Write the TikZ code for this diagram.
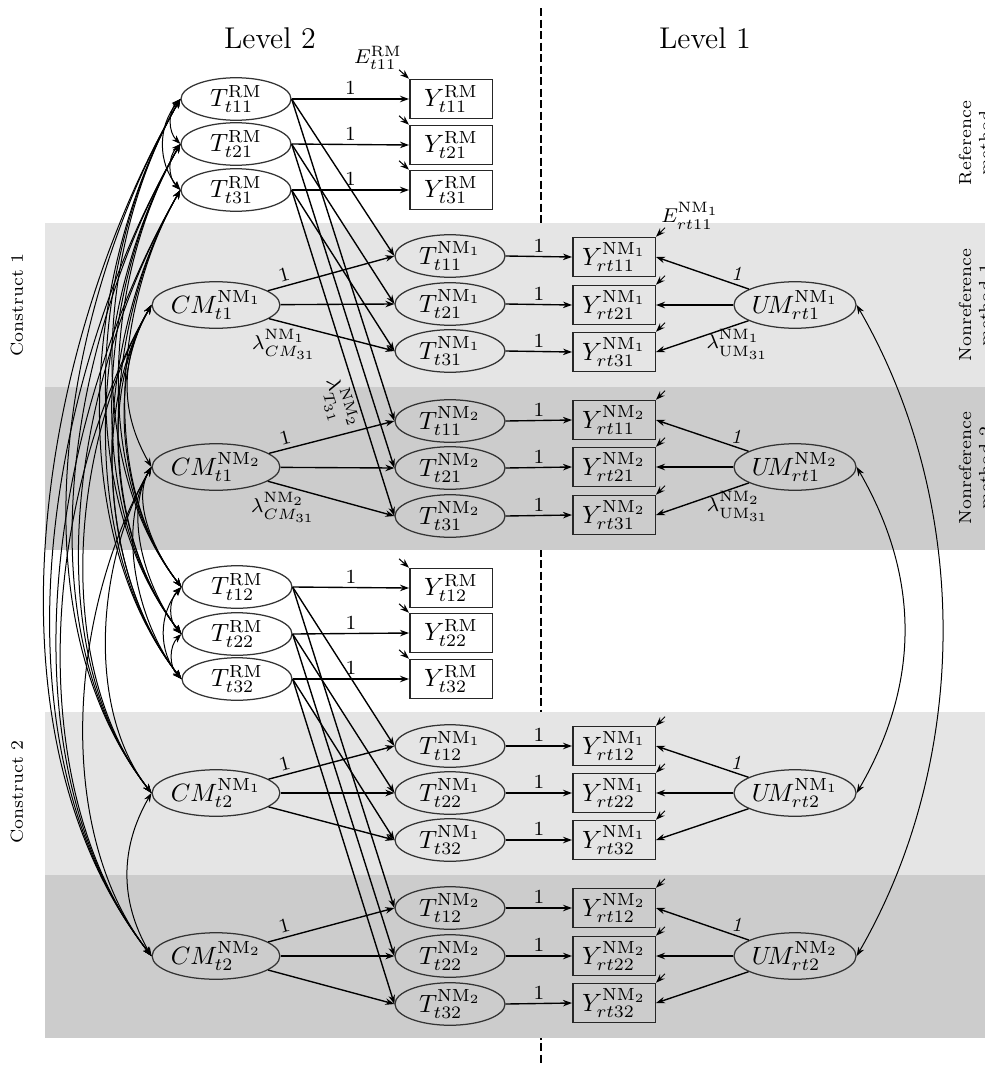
\documentclass[tikz,border=0pt]{standalone}
\usetikzlibrary{arrows.meta,shapes.geometric}
\begin{document}
\begin{tikzpicture}[x=0.4pt,y=-0.4pt,
  >={Stealth[length=3.6pt,width=2.6pt]},
  lat/.style={ellipse,draw=black!80,line width=0.5pt,minimum width=44pt,minimum height=17pt,inner sep=0pt},
  latc/.style={lat,minimum width=46pt,minimum height=18.6pt},
  obs/.style={rectangle,draw=black!85,line width=0.6pt,minimum width=33pt,minimum height=15.6pt,inner sep=0pt},
  arr/.style={->,line width=0.55pt},
  cov/.style={<->,line width=0.4pt},
  err/.style={->,line width=0.4pt},
  lab/.style={font=\footnotesize,inner sep=1.5pt},
  side/.style={rotate=90,align=center,font=\scriptsize,inner sep=0pt}
]
\useasboundingbox (0,0) rectangle (985,1066);
\draw[dash pattern=on 3.2pt off 1.4pt,line width=0.5pt] (541,8) -- (541,1066);
\fill[black!10] (45,223) rectangle (990,387);
\fill[black!20] (45,387) rectangle (990,550);
\fill[black!10] (45,712) rectangle (990,875);
\fill[black!20] (45,875) rectangle (990,1038);

\node[font=\large] (L2) at (270,38) {Level 2};
\node[font=\large] (L1) at (705,38) {Level 1};
\node[side] (S0) at (975,143) {Reference\\method};
\node[side] (S1) at (975,305) {Nonreference\\method 1};
\node[side] (S2) at (975,468) {Nonreference\\method 2};
\node[side] (C1) at (17,305) {Construct 1};
\node[side] (C2) at (17,792) {Construct 2};

% ---------- construct 1 ----------
\node[lat] (TR11) at (236,99) {$T^{\mathrm{RM}}_{t11}$};
\node[lat] (TR21) at (236,144) {$T^{\mathrm{RM}}_{t21}$};
\node[lat] (TR31) at (236,190) {$T^{\mathrm{RM}}_{t31}$};
\node[obs] (YR11) at (451,99) {$Y^{\mathrm{RM}}_{t11}$};
\node[obs] (YR21) at (451,145) {$Y^{\mathrm{RM}}_{t21}$};
\node[obs] (YR31) at (451,190) {$Y^{\mathrm{RM}}_{t31}$};
\node[latc] (CM11) at (216,305) {$CM^{\mathrm{NM}_1}_{t1}$};
\node[latc] (CM12) at (216,467) {$CM^{\mathrm{NM}_2}_{t1}$};
\node[lat] (TA11) at (450,256) {$T^{\mathrm{NM}_1}_{t11}$};
\node[lat] (TA21) at (450,304) {$T^{\mathrm{NM}_1}_{t21}$};
\node[lat] (TA31) at (450,351) {$T^{\mathrm{NM}_1}_{t31}$};
\node[lat] (TB11) at (450,421) {$T^{\mathrm{NM}_2}_{t11}$};
\node[lat] (TB21) at (450,468) {$T^{\mathrm{NM}_2}_{t21}$};
\node[lat] (TB31) at (450,516) {$T^{\mathrm{NM}_2}_{t31}$};
\node[obs] (YA11) at (614,257) {$Y^{\mathrm{NM}_1}_{rt11}$};
\node[obs] (YA21) at (614,305) {$Y^{\mathrm{NM}_1}_{rt21}$};
\node[obs] (YA31) at (614,352) {$Y^{\mathrm{NM}_1}_{rt31}$};
\node[obs] (YB11) at (614,420) {$Y^{\mathrm{NM}_2}_{rt11}$};
\node[obs] (YB21) at (614,467) {$Y^{\mathrm{NM}_2}_{rt21}$};
\node[obs] (YB31) at (614,515) {$Y^{\mathrm{NM}_2}_{rt31}$};
\node[latc] (UM11) at (795,305) {$U\!M^{\mathrm{NM}_1}_{rt1}$};
\node[latc] (UM12) at (795,467) {$U\!M^{\mathrm{NM}_2}_{rt1}$};

% ---------- construct 2 ----------
\node[lat] (TR12) at (237,587) {$T^{\mathrm{RM}}_{t12}$};
\node[lat] (TR22) at (237,634) {$T^{\mathrm{RM}}_{t22}$};
\node[lat] (TR32) at (237,679) {$T^{\mathrm{RM}}_{t32}$};
\node[obs] (YR12) at (451,588) {$Y^{\mathrm{RM}}_{t12}$};
\node[obs] (YR22) at (451,633) {$Y^{\mathrm{RM}}_{t22}$};
\node[obs] (YR32) at (451,679) {$Y^{\mathrm{RM}}_{t32}$};
\node[latc] (CM21) at (216,793) {$CM^{\mathrm{NM}_1}_{t2}$};
\node[latc] (CM22) at (216,956) {$CM^{\mathrm{NM}_2}_{t2}$};
\node[lat] (TA12) at (450,746) {$T^{\mathrm{NM}_1}_{t12}$};
\node[lat] (TA22) at (450,793) {$T^{\mathrm{NM}_1}_{t22}$};
\node[lat] (TA32) at (450,840) {$T^{\mathrm{NM}_1}_{t32}$};
\node[lat] (TB12) at (450,908) {$T^{\mathrm{NM}_2}_{t12}$};
\node[lat] (TB22) at (450,956) {$T^{\mathrm{NM}_2}_{t22}$};
\node[lat] (TB32) at (450,1004) {$T^{\mathrm{NM}_2}_{t32}$};
\node[obs] (YA12) at (614,746) {$Y^{\mathrm{NM}_1}_{rt12}$};
\node[obs] (YA22) at (614,793) {$Y^{\mathrm{NM}_1}_{rt22}$};
\node[obs] (YA32) at (614,840) {$Y^{\mathrm{NM}_1}_{rt32}$};
\node[obs] (YB12) at (614,908) {$Y^{\mathrm{NM}_2}_{rt12}$};
\node[obs] (YB22) at (614,956) {$Y^{\mathrm{NM}_2}_{rt22}$};
\node[obs] (YB32) at (614,1003) {$Y^{\mathrm{NM}_2}_{rt32}$};
\node[latc] (UM21) at (795,793) {$U\!M^{\mathrm{NM}_1}_{rt2}$};
\node[latc] (UM22) at (795,956) {$U\!M^{\mathrm{NM}_2}_{rt2}$};

% error labels
\node[lab] (ER) at (378,58) {$E^{\mathrm{RM}}_{t11}$};
\node[lab] (EN) at (690,216) {$E^{\mathrm{NM}_1}_{rt11}$};

% error arrows
\foreach \n in {YR11,YR21,YR31,YR12,YR22,YR32}{
  \coordinate (e\n) at ([shift={(-10,-9)}]\n.north west);
  \draw[err] (e\n) -- (\n.north west);
}
\foreach \n in {YA11,YA21,YA31,YB11,YB21,YB31,YA12,YA22,YA32,YB12,YB22,YB32}{
  \coordinate (e\n) at ([shift={(9,-9)}]\n.north east);
  \draw[err] (e\n) -- (\n.north east);
}

% T RM -> Y RM, T NM -> Y NM
\foreach \i in {11,21,31,12,22,32}{
  \draw[arr] (TR\i.east) -- node[lab,above]{1} (YR\i.west);
  \draw[arr] (TA\i.east) -- node[lab,above]{1} (YA\i.west);
  \draw[arr] (TB\i.east) -- node[lab,above]{1} (YB\i.west);
  \draw[arr] (TR\i.east) -- (TA\i.west);
  \draw[arr] (TR\i.east) -- (TB\i.west);
}

% CM -> T NM
\draw[arr] (CM11) -- node[lab,above,sloped,pos=0.15]{1} (TA11.west);
\draw[arr] (CM11) -- (TA21.west);
\draw[arr] (CM11) -- node[lab,below=1pt,pos=0.12]{$\lambda^{\mathrm{NM}_1}_{CM_{31}}$} (TA31.west);
\draw[arr] (CM12) -- node[lab,above,sloped,pos=0.15]{1} (TB11.west);
\draw[arr] (CM12) -- (TB21.west);
\draw[arr] (CM12) -- node[lab,below=1pt,pos=0.12]{$\lambda^{\mathrm{NM}_2}_{CM_{31}}$} (TB31.west);
\draw[arr] (CM21) -- node[lab,above,sloped,pos=0.15]{1} (TA12.west);
\draw[arr] (CM21) -- (TA22.west);
\draw[arr] (CM21) -- (TA32.west);
\draw[arr] (CM22) -- node[lab,above,sloped,pos=0.15]{1} (TB12.west);
\draw[arr] (CM22) -- (TB22.west);
\draw[arr] (CM22) -- (TB32.west);

% UM -> Y NM
\draw[arr] (UM11) -- node[lab,above,pos=0.12]{$\mathit{1}$} (YA11.east);
\draw[arr] (UM11) -- (YA21.east);
\draw[arr] (UM11) -- node[lab,below,pos=0.12]{$\lambda^{\mathrm{NM}_1}_{\mathrm{UM}_{31}}$} (YA31.east);
\draw[arr] (UM12) -- node[lab,above,pos=0.12]{$\mathit{1}$} (YB11.east);
\draw[arr] (UM12) -- (YB21.east);
\draw[arr] (UM12) -- node[lab,below,pos=0.12]{$\lambda^{\mathrm{NM}_2}_{\mathrm{UM}_{31}}$} (YB31.east);
\draw[arr] (UM21) -- node[lab,above,pos=0.12]{$\mathit{1}$} (YA12.east);
\draw[arr] (UM21) -- (YA22.east);
\draw[arr] (UM21) -- (YA32.east);
\draw[arr] (UM22) -- node[lab,above,pos=0.12]{$\mathit{1}$} (YB12.east);
\draw[arr] (UM22) -- (YB22.east);
\draw[arr] (UM22) -- (YB32.east);

% lambda T label
\path (TR31.east) -- node[lab,sloped,below,pos=0.64]{$\lambda^{\mathrm{NM}_2}_{T_{31}}$} (TB31.west);

% within-construct covariances
\draw[cov] (TR11.west) to[bend right=45] (TR21.west);
\draw[cov] (TR21.west) to[bend right=45] (TR31.west);
\draw[cov] (TR11.west) to[bend right=40] (TR31.west);
\draw[cov] (TR12.west) to[bend right=45] (TR22.west);
\draw[cov] (TR22.west) to[bend right=45] (TR32.west);
\draw[cov] (TR12.west) to[bend right=40] (TR32.west);
\draw[cov] (CM11.west) to[out=240,in=120] (CM12.west);
\draw[cov] (CM21.west) to[out=240,in=120] (CM22.west);

% cross-construct covariances
\foreach \a in {TR11,TR21,TR31,CM11,CM12}{
  \foreach \b in {TR12,TR22,TR32,CM21,CM22}{
    \draw[cov] (\a.west) to[out=240,in=128,looseness=0.85] (\b.west);
  }
}

% unique method covariances
\draw[cov] (UM11.east) to[out=-60,in=60,looseness=0.9] (UM22.east);
\draw[cov] (UM12.east) to[out=-60,in=60] (UM21.east);
\end{tikzpicture}
\end{document}
